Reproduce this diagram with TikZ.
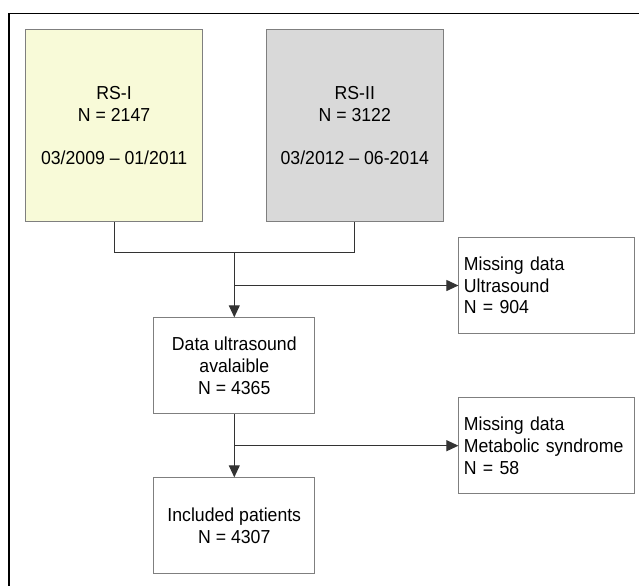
\documentclass[tikz,border=0pt]{standalone}
\usepackage{fontspec}
\setmainfont{Liberation Sans}[FakeStretch=0.94]
\usepackage{tikz}
\usetikzlibrary{arrows.meta}
\definecolor{rsone}{HTML}{F8FAD8}
\definecolor{rstwo}{HTML}{D9D9D9}
\definecolor{edge}{HTML}{7F7F7F}

\begin{document}
\begin{tikzpicture}[x=1pt, y=-1pt,
box/.style={draw=edge, line width=1pt, align=center, inner sep=0pt,
  font=\fontsize{18.8}{21.6}\selectfont},
missbox/.style={box, text width=166pt, align=left, inner xsep=5pt,
  minimum width=176pt, minimum height=96pt},
arr/.style={-{Triangle[length=12pt,width=11pt]}, line width=1pt, black!80}]
\useasboundingbox (0,0) rectangle (639,586);
\draw[line width=1.2pt] (639,13.3) -- (9,13.3) -- (9,586);
\node[box, fill=rsone, minimum width=177pt, minimum height=192pt] (rs1) at (114.1,125.5)
  {RS-I\\N = 2147\\[21.6pt]03/2009 -- 01/2011};
\node[box, fill=rstwo, minimum width=177pt, minimum height=192pt] (rs2) at (354.8,125.5)
  {RS-II\\N = 3122\\[21.6pt]03/2012 -- 06-2014};
\node[missbox] (miss1) at (546.9,285.5) {Missing data\\Ultrasound\\N = 904};
\node[box, minimum width=161pt, minimum height=96pt] (data) at (234.3,365.8)
  {Data ultrasound\\avalaible\\N = 4365};
\node[missbox] (miss2) at (546.9,445.7) {Missing data\\Metabolic syndrome\\N = 58};
\node[box, minimum width=161pt, minimum height=96pt] (incl) at (234.3,525.8)
  {Included patients\\N = 4307};
\coordinate (merge) at (234.3,252.3);
% connectors
\draw[line width=1pt, black!80] (rs1.south) |- (merge) -| (rs2.south);
\draw[arr] (merge) -- (data.north);
\draw[arr] (merge |- miss1.west) -- (miss1.west);
\draw[arr] (data.south) -- (incl.north);
\draw[arr] (data.south |- miss2.west) -- (miss2.west);
\end{tikzpicture}
\end{document}
